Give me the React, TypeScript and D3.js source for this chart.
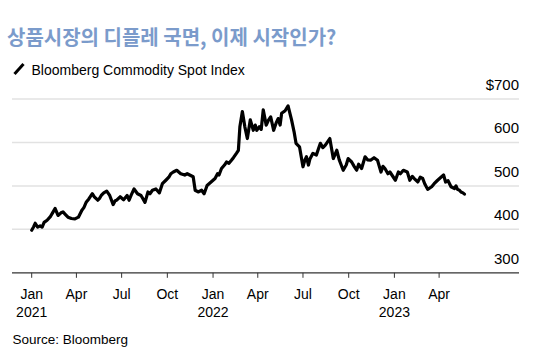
import React, { useEffect, useRef } from "react";
import * as d3 from "d3";

// Bloomberg Commodity Spot Index
const dates = [
  "2021-01-01", "2021-01-05", "2021-01-08", "2021-01-13", "2021-01-18", "2021-01-22",
  "2021-01-26", "2021-02-01", "2021-02-08", "2021-02-12", "2021-02-17", "2021-02-23",
  "2021-03-01", "2021-03-05", "2021-03-10", "2021-03-15", "2021-03-22", "2021-03-29",
  "2021-04-05", "2021-04-12", "2021-04-16", "2021-04-21", "2021-04-26", "2021-05-03",
  "2021-05-07", "2021-05-14", "2021-05-18", "2021-05-21", "2021-05-26", "2021-06-01",
  "2021-06-07", "2021-06-14", "2021-06-18", "2021-06-21", "2021-06-28", "2021-07-05",
  "2021-07-12", "2021-07-16", "2021-07-20", "2021-07-26", "2021-08-02", "2021-08-09",
  "2021-08-12", "2021-08-17", "2021-08-23", "2021-08-27", "2021-09-01", "2021-09-08",
  "2021-09-15", "2021-09-21", "2021-09-28", "2021-10-04", "2021-10-08", "2021-10-13",
  "2021-10-20", "2021-10-25", "2021-10-28", "2021-11-05", "2021-11-10", "2021-11-15",
  "2021-11-22", "2021-11-26", "2021-12-02", "2021-12-09", "2021-12-14", "2021-12-20",
  "2021-12-28", "2022-01-05", "2022-01-10", "2022-01-13", "2022-01-18", "2022-01-24",
  "2022-01-28", "2022-02-02", "2022-02-07", "2022-02-11", "2022-02-17", "2022-02-21",
  "2022-02-24", "2022-03-01", "2022-03-06", "2022-03-11", "2022-03-17", "2022-03-23",
  "2022-03-27", "2022-03-30", "2022-04-04", "2022-04-08", "2022-04-12", "2022-04-18",
  "2022-04-22", "2022-04-27", "2022-05-03", "2022-05-08", "2022-05-12", "2022-05-16",
  "2022-05-19", "2022-05-26", "2022-06-01", "2022-06-08", "2022-06-13", "2022-06-17",
  "2022-06-24", "2022-07-01", "2022-07-05", "2022-07-08", "2022-07-12", "2022-07-15",
  "2022-07-21", "2022-07-28", "2022-08-01", "2022-08-05", "2022-08-10", "2022-08-15",
  "2022-08-24", "2022-08-31", "2022-09-07", "2022-09-12", "2022-09-20", "2022-09-26",
  "2022-09-30", "2022-10-07", "2022-10-12", "2022-10-17", "2022-10-21", "2022-10-27",
  "2022-11-03", "2022-11-08", "2022-11-14", "2022-11-21", "2022-11-28", "2022-12-05",
  "2022-12-09", "2022-12-13", "2022-12-19", "2022-12-23", "2023-01-03", "2023-01-09",
  "2023-01-13", "2023-01-19", "2023-01-27", "2023-02-01", "2023-02-06", "2023-02-10",
  "2023-02-17", "2023-02-22", "2023-02-27", "2023-03-03", "2023-03-09", "2023-03-17",
  "2023-03-22", "2023-03-29", "2023-04-03", "2023-04-10", "2023-04-14", "2023-04-19",
  "2023-04-25", "2023-05-02", "2023-05-05", "2023-05-08", "2023-05-12", "2023-05-15",
  "2023-05-19", "2023-05-22",
];
const values = [
  398, 406, 414, 405, 408, 405,
  416, 421, 430, 438, 448, 432,
  438, 440, 434, 428, 425, 424,
  428, 444, 450, 463, 470, 482,
  475, 467, 472, 478, 484, 488,
  478, 457, 466, 467, 475, 468,
  478, 467, 478, 493, 482, 478,
  472, 462, 486, 482, 490, 493,
  484, 505, 513, 520, 528, 532,
  536, 531, 528, 525, 528, 525,
  521, 490, 486, 490, 482, 501,
  509, 517, 528, 525, 540, 548,
  555, 552, 559, 565, 575, 582,
  636, 671, 636, 609, 652, 628,
  640, 628, 636, 630, 675, 640,
  650, 659, 628, 645, 655, 640,
  667, 673, 684, 652, 625, 598,
  590, 544, 560, 567, 548, 562,
  575, 571, 585, 598, 588, 594,
  609, 563, 582, 560, 536, 548,
  563, 555, 545, 536, 550, 540,
  567, 560, 559, 565, 559, 532,
  545, 540, 528, 532, 513, 532,
  528, 536, 532, 513, 522, 517,
  509, 520, 517, 505, 492, 498,
  505, 513, 518, 525, 509, 512,
  498, 494, 500, 492, 490, 486,
  484, 481,
];

const yTicks = [300, 400, 500, 600, 700];
const xTicks = [
  "2021-01-01", "2021-04-01", "2021-07-01", "2021-10-01",
  "2022-01-01", "2022-04-01", "2022-07-01", "2022-10-01",
  "2023-01-01", "2023-04-01",
];
const monthLabels = ["Jan", "Apr", "Jul", "Oct", "Jan", "Apr", "Jul", "Oct", "Jan", "Apr"];
const yearLabels = ["2021", "", "", "", "2022", "", "", "", "2023", ""];

const title = "상품시장의 디플레 국면, 이제 시작인가?";
const seriesName = "Bloomberg Commodity Spot Index";
const source = "Source: Bloomberg";

const FONT = "'Liberation Sans', Arial, sans-serif";

export default function App() {
  const ref = useRef<SVGSVGElement>(null);

  useEffect(() => {
    if (!ref.current) return;
    const svg = d3.select(ref.current);
    svg.selectAll("*").remove();

    const W = 549;
    const H = 361;
    const left = 12;
    const right = 519;

    const parse = d3.timeParse("%Y-%m-%d");
    const data = dates.map((d, i) => ({ date: parse(d) as Date, value: values[i] }));

    const x = d3
      .scaleTime()
      .domain([parse("2021-01-01") as Date, parse("2023-01-01") as Date])
      .range([31.7, 394.4]);

    const y = d3.scaleLinear().domain([300, 700]).range([272.8, 99]);

    svg.attr("width", W).attr("height", H);

    // title
    svg
      .append("text")
      .attr("x", 7)
      .attr("y", 45)
      .style("font-family", "'Noto Sans CJK KR', sans-serif")
      .style("font-size", "20px")
      .style("font-weight", "bold")
      .attr("fill", "#7b9bcb")
      .text(title);

    // legend
    svg
      .append("line")
      .attr("x1", 14.5)
      .attr("y1", 74)
      .attr("x2", 23.5)
      .attr("y2", 64)
      .attr("stroke", "#000")
      .attr("stroke-width", 3);

    svg
      .append("text")
      .attr("x", 31.5)
      .attr("y", 74.5)
      .style("font-family", FONT)
      .style("font-size", "14px")
      .attr("fill", "#000")
      .text(seriesName);

    // gridlines
    svg
      .append("g")
      .selectAll("line")
      .data(yTicks)
      .enter()
      .append("line")
      .attr("x1", left)
      .attr("x2", right)
      .attr("y1", (d) => y(d))
      .attr("y2", (d) => y(d))
      .attr("stroke", (d) => (d === 300 ? "#333" : "#e2e2e2"))
      .attr("stroke-width", (d) => (d === 300 ? 1.2 : 1.5));

    // y labels
    svg
      .append("g")
      .selectAll("text")
      .data(yTicks)
      .enter()
      .append("text")
      .attr("x", right)
      .attr("y", (d) => y(d) - 9)
      .attr("text-anchor", "end")
      .style("font-family", FONT)
      .style("font-size", "15px")
      .attr("fill", "#000")
      .text((d) => (d === 700 ? "$700" : String(d)));

    // x ticks
    const xt = svg.append("g");
    xTicks.forEach((t, i) => {
      const px = x(parse(t) as Date);
      xt.append("line")
        .attr("x1", px)
        .attr("x2", px)
        .attr("y1", y(300))
        .attr("y2", y(300) + 5)
        .attr("stroke", "#333")
        .attr("stroke-width", 1);
      xt.append("text")
        .attr("x", px)
        .attr("y", 298.5)
        .attr("text-anchor", "middle")
        .style("font-family", FONT)
        .style("font-size", "14px")
        .text(monthLabels[i]);
      if (yearLabels[i]) {
        xt.append("text")
          .attr("x", px)
          .attr("y", 316.5)
          .attr("text-anchor", "middle")
          .style("font-family", FONT)
          .style("font-size", "14px")
          .text(yearLabels[i]);
      }
    });

    // series line
    const line = d3
      .line<{ date: Date; value: number }>()
      .x((d) => x(d.date))
      .y((d) => y(d.value));

    svg
      .append("path")
      .datum(data)
      .attr("d", line)
      .attr("fill", "none")
      .attr("stroke", "#000")
      .attr("stroke-width", 3.2)
      .attr("stroke-linejoin", "round")
      .attr("stroke-linecap", "round");

    // source
    svg
      .append("text")
      .attr("x", 12.5)
      .attr("y", 344)
      .style("font-family", FONT)
      .style("font-size", "13.5px")
      .attr("fill", "#000")
      .text(source);
  }, []);

  return (
    <div style={{ position: "absolute", left: 0, top: 0, background: "#fff" }}>
      <svg ref={ref} style={{ display: "block" }}></svg>
    </div>
  );
}
